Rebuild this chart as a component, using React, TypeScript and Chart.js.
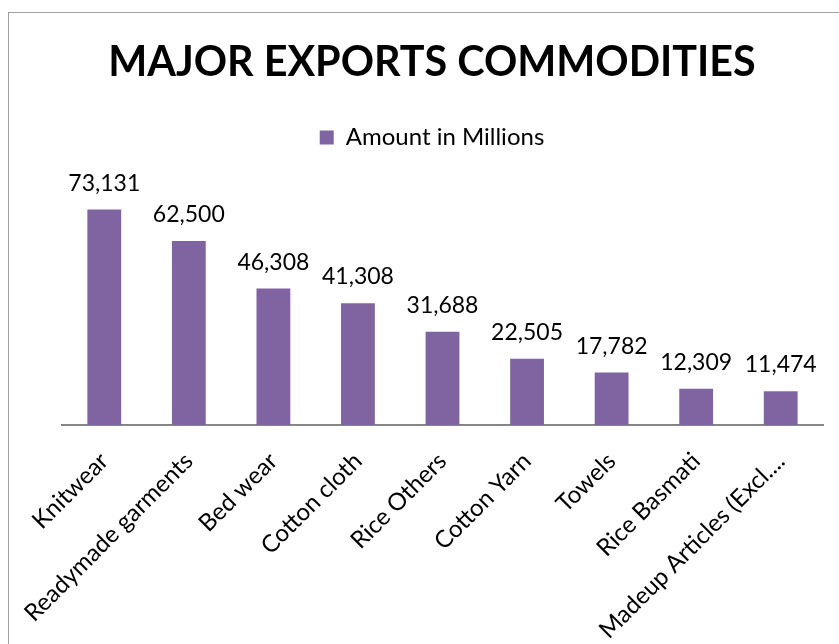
import React, { useEffect, useRef } from "react";
import { Chart, registerables } from "chart.js";

Chart.register(...registerables);

const categories = [
  "Knitwear",
  "Readymade garments",
  "Bed wear",
  "Cotton cloth",
  "Rice Others",
  "Cotton Yarn",
  "Towels",
  "Rice Basmati",
  "Madeup Articles (Excl....",
];
const amounts = [73131, 62500, 46308, 41308, 31688, 22505, 17782, 12309, 11474];
const seriesName = "Amount in Millions";
const titleText = "MAJOR EXPORTS COMMODITIES";

const FONT = "Lato";

export default function App() {
  const ref = useRef<HTMLCanvasElement | null>(null);

  useEffect(() => {
    if (!ref.current) return;
    const labelPlugin = {
      id: "barLabels",
      afterDatasetsDraw(chart: any) {
        const ctx = chart.ctx;
        const meta = chart.getDatasetMeta(0);
        ctx.save();
        ctx.font = `23px ${FONT}`;
        ctx.fillStyle = "#000";
        ctx.textAlign = "center";
        ctx.textBaseline = "alphabetic";
        meta.data.forEach((bar: any, i: number) => {
          ctx.fillText(amounts[i].toLocaleString("en-US"), bar.x, bar.y - 19);
        });
        ctx.restore();
      },
    };
    const chart = new Chart(ref.current, {
      type: "bar",
      data: {
        labels: categories,
        datasets: [
          {
            label: seriesName,
            data: amounts,
            backgroundColor: "#8064A2",
            borderWidth: 0,
            barPercentage: 0.4,
            categoryPercentage: 1,
            yAxisID: "y",
          },
        ],
      },
      options: {
        animation: false,
        responsive: false,
        devicePixelRatio: 1,
        layout: { padding: { left: 0, right: 0, top: 0, bottom: 0 } },
        plugins: {
          title: {
            display: true,
            text: titleText,
            color: "#000",
            font: { family: FONT, size: 41.3, weight: "bold" },
            padding: { top: 25, bottom: 28 },
          },
          subtitle: {
            display: true,
            text: " ",
            weight: 500,
            font: { size: 1 },
            padding: { top: 28.6, bottom: 0 },
          },
          legend: {
            display: true,
            position: "top",
            labels: {
              color: "#000",
              boxWidth: 14,
              boxHeight: 14,
              font: { family: FONT, size: 24 },
              padding: 10,
            },
          },
          tooltip: { enabled: false },
        },
        scales: {
          x: {
            grid: { display: false, drawTicks: false },
            border: { display: true, color: "#868686", width: 2 },
            ticks: {
              color: "#000",
              font: { family: FONT, size: 24 },
              minRotation: 45,
              maxRotation: 45,
              autoSkip: false,
              padding: 22,
            },
            afterFit(scale: any) {
              scale.height = 248;
            },
          },
          y: {
            display: true,
            position: "left",
            min: 0,
            max: 80000,
            grid: { display: false, drawTicks: false },
            border: { display: false },
            ticks: { display: false },
            afterFit(scale: any) {
              scale.width = 53;
            },
          },
          yRight: {
            type: "linear",
            display: true,
            position: "right",
            min: 0,
            max: 80000,
            grid: { display: false, drawTicks: false },
            border: { display: false },
            ticks: { display: false },
            afterFit(scale: any) {
              scale.width = 32;
            },
          },
        },
      },
      plugins: [labelPlugin],
    } as any);
    return () => chart.destroy();
  }, []);

  return (
    <div style={{ position: "fixed", inset: 0, overflow: "hidden", background: "#fff" }}>
      <div
        style={{
          position: "absolute",
          left: 8,
          top: 12,
          width: 846,
          height: 660,
          border: "1px solid #a0a0a0",
          background: "#fff",
        }}
      >
        <canvas ref={ref} width={846} height={660} style={{ display: "block" }} />
      </div>
    </div>
  );
}
